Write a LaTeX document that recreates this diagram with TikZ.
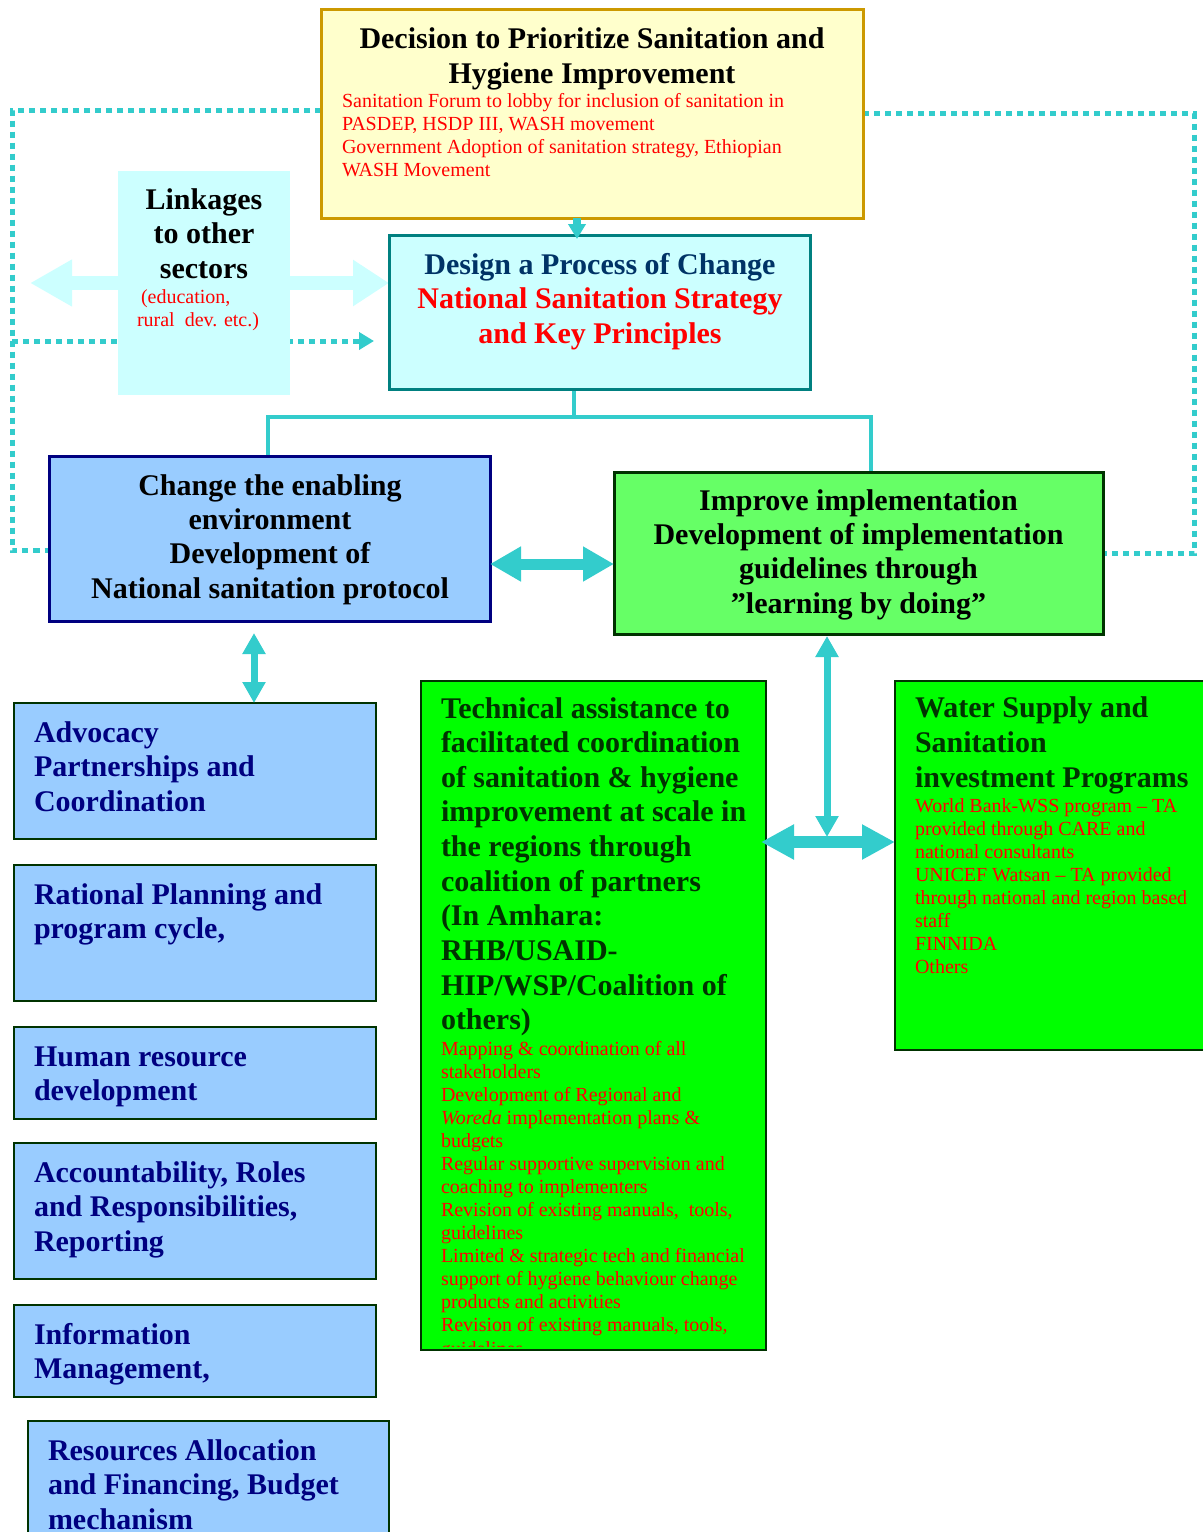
\documentclass[tikz,border=0pt]{standalone}
\usepackage{fontspec}
\setmainfont{Liberation Serif}
\usetikzlibrary{arrows.meta,fit,calc}
\definecolor{cya}{HTML}{33CCCC}
\definecolor{lcy}{HTML}{CCFFFF}
\definecolor{ylw}{HTML}{FFFFCC}
\definecolor{gld}{HTML}{CC9900}
\definecolor{tealb}{HTML}{008080}
\definecolor{lblue}{HTML}{99CCFF}
\definecolor{navyb}{HTML}{000080}
\definecolor{lgrn}{HTML}{66FF66}
\definecolor{dgrn}{HTML}{003300}
\definecolor{grn}{HTML}{00FF00}
\definecolor{redt}{HTML}{FF0000}
\definecolor{dblue}{HTML}{003366}
\newcommand\Bst{\rule{0pt}{11pt}}
\newcommand\Rst{\rule{0pt}{7.5pt}}
\tikzset{
  bx/.style={inner sep=0pt, outer sep=0pt},
  bt/.style={font=\fontsize{15}{#1}\selectfont\bfseries, inner sep=0pt, outer sep=0pt},
  bt/.default=17.5,
  rt/.style={font=\fontsize{10}{#1}\selectfont, text=redt, inner sep=0pt, outer sep=0pt, align=left, anchor=north west},
  rt/.default=11.5,
  lt/.style={bt=17.25, text=navyb, anchor=north west, align=left},
  lbox/.style={bx, fill=lblue, draw=dgrn, line width=1pt},
  gbox/.style={bx, fill=grn, draw=dgrn, line width=1.25pt},
  dotline/.style={cya, line width=2.5pt, dash pattern=on 3pt off 2.5pt},
  tree/.style={cya, line width=2pt},
  dblarrow/.style={cya, line width=5.5pt, {Triangle[width=16.5pt,length=15.5pt]}-{Triangle[width=16.5pt,length=15.5pt]}},
  thinarrow/.style={cya, line width=3.5pt, {Triangle[width=11pt,length=10.5pt]}-{Triangle[width=11pt,length=10.5pt]}},
}
\begin{document}
\begin{tikzpicture}[x=0.5pt,y=-0.5pt]
\useasboundingbox (0,0) rectangle (1203,1532);
\fill[white] (0,0) rectangle (1203,1532);

% ---- boxes geometry ----
\node[bx, fit={(321,9) (863,218)}] (top) {};
\node[bx, fit={(389,235) (810,389)}] (des) {};
\node[bx, fit={(118,171) (290,395)}] (lnk) {};
\node[bx, fit={(49,456) (490,621)}] (enab) {};
\node[bx, fit={(614,472) (1103,634)}] (impl) {};
\node[bx, fit={(14,703) (376,839)}] (L1) {};
\node[bx, fit={(421,681) (766,1350)}] (tech) {};
\node[bx, fit={(895,681) (1215,1050)}] (wat) {};

% ---- dotted feedback lines ----
\coordinate (dl) at (12,341);
\coordinate (dr) at (1194,330);
\draw[dotline] ($(top.west)+(0,-3)$) -| (dl) |- ($(enab.west)+(0,11.5)$);
\draw[dotline, -{Triangle[width=8.5pt,length=7.5pt]}] (dl) -- ($(des.west |- dl)+(-15,0)$);
\draw[dotline] (top.east) -| (dr) |- (impl.east);

% ---- big light cyan double arrow behind linkages ----
\coordinate (lk0) at (30,283);
\draw[lcy, line width=7pt, {Triangle[width=22pt,length=21pt]}-{Triangle[width=22pt,length=18pt]}] (lk0) -- (des.west |- lk0);

% ---- tree connector ----
\coordinate (tr) at (574,417);
\draw[tree] (des.south -| tr) -- (tr);
\draw[tree] ([xshift=-0.75pt]enab.north) |- (tr) -| ([xshift=6.25pt]impl.north);

% ---- filled boxes ----
\fill[ylw] (top.north west) rectangle (top.south east);
\draw[gld, line width=1.5pt] (top.north west) rectangle (top.south east);
\fill[lcy] (lnk.north west) rectangle (lnk.south east);
\draw[tealb, line width=1.5pt, fill=lcy] (des.north west) rectangle (des.south east);
\draw[navyb, line width=1.5pt, fill=lblue] (enab.north west) rectangle (enab.south east);
\draw[dgrn, line width=1.5pt, fill=lgrn] (impl.north west) rectangle (impl.south east);
\draw[lbox] (L1.north west) rectangle (L1.south east);
\node[lbox, fit={(14,865) (376,1001)}] (L2) {};
\node[lbox, fit={(14,1027) (376,1119)}] (L3) {};
\node[lbox, fit={(14,1143) (376,1279)}] (L4) {};
\node[lbox, fit={(14,1305) (376,1397)}] (L5) {};
\node[lbox, fit={(28,1421) (389,1545)}] (L6) {};
\draw[gbox] (tech.north west) rectangle (tech.south east);
\draw[gbox] (wat.north west) rectangle (wat.south east);

% ---- small arrow top -> design ----
\coordinate (sa) at (577,218);
\draw[cya, line width=4pt, -{Triangle[width=8.5pt,length=7.5pt]}] (top.south -| sa) -- ($(des.north -| sa)+(0,4)$);

% ---- texts ----
\node[bt, anchor=north, align=center] (topt) at (592,26) {\Bst Decision to Prioritize Sanitation and\\Hygiene Improvement};
\node[rt] (topr) at (342,92) {\Rst Sanitation Forum to lobby for inclusion of sanitation in\\PASDEP, HSDP III, WASH movement\\Government Adoption of sanitation strategy, Ethiopian\\WASH Movement};

\node[bt=17.25, anchor=north, align=center] (lkt) at (204,187) {\Bst Linkages\\to other\\sectors};
\node[rt] (lkr) at (137,288) {\Rst\hspace*{2pt}(education,\\rural\ \ dev. etc.)};

\node[bt=17.25, anchor=north, align=center] (dest) at (600,252) {\Bst\textcolor{dblue}{Design a Process of Change}\\\textcolor{redt}{National Sanitation Strategy}\\\textcolor{redt}{and Key Principles}};

\node[bt=17.17, anchor=north, align=center] (enabt) at (270,473) {\Bst Change the enabling\\environment\\Development of\\National sanitation protocol};

\node[bt=17.17, anchor=north, align=center] (implt) at (858.5,488) {\Bst Improve implementation\\Development of implementation\\guidelines through\\”learning by doing”};

\node[lt] (L1t) at (34,720) {\Bst Advocacy\\Partnerships and\\Coordination};
\node[lt] (L2t) at (34,882) {\Bst Rational Planning and\\program cycle,};
\node[lt] (L3t) at (34,1044) {\Bst Human resource\\development};
\node[lt] (L4t) at (34,1160) {\Bst Accountability, Roles\\and Responsibilities,\\Reporting};
\node[lt] (L5t) at (34,1322) {\Bst Information\\Management,};
\node[lt] (L6t) at (48,1438) {\Bst Resources Allocation\\and Financing, Budget\\mechanism};

\node[bt=17.33, text=dgrn, anchor=north west, align=left] (techt) at (441,696) {\Bst Technical assistance to\\facilitated coordination\\of sanitation \& hygiene\\improvement at scale in\\the regions through\\coalition of partners\\(In Amhara:\\RHB/USAID-\\HIP/WSP/Coalition of\\others)};
\begin{scope}
\clip (423,683) rectangle (764,1346);
\node[rt=11.54] (techr) at (441,1040) {\Rst Mapping \& coordination of all\\stakeholders\\Development of Regional and\\\textit{Woreda} implementation plans \&\\budgets\\Regular supportive supervision and\\coaching to implementers\\Revision of existing manuals,\ \ tools,\\guidelines\\Limited \& strategic tech and financial\\support of hygiene behaviour change\\products and activities\\Revision of existing manuals, tools,\\guidelines};
\end{scope}

\node[bt=17.5, text=dgrn, anchor=north west, align=left] (watt) at (915,695) {\Bst Water Supply and\\Sanitation\\investment Programs};
\node[rt] (watr) at (915,797) {\Rst World Bank-WSS program – TA\\provided through CARE and\\national consultants\\UNICEF Watsan – TA provided\\through national and region based\\staff\\FINNIDA\\Others};

% ---- cyan arrows ----
\coordinate (ei) at ($(enab.east)+(0,25.5)$);
\draw[dblarrow] (ei) -- (ei -| impl.west);

\coordinate (ev) at ($(enab.south)+(-15.5,12)$);
\draw[thinarrow] (ev) -- (ev |- L1.north);

\coordinate (iv) at ($(impl.south)+(-31.5,2)$);
\coordinate (hm) at (827,842);
\draw[thinarrow] (iv) -- ($(hm)+(0,-5)$);
\path (hm -| tech.east) coordinate (hl0);
\draw[cya, line width=6pt, {Triangle[width=16.5pt,length=16.5pt]}-{Triangle[width=16.5pt,length=16.5pt]}] ($(hl0)+(-5,0)$) -- (hm -| wat.west);
\end{tikzpicture}
\end{document}
